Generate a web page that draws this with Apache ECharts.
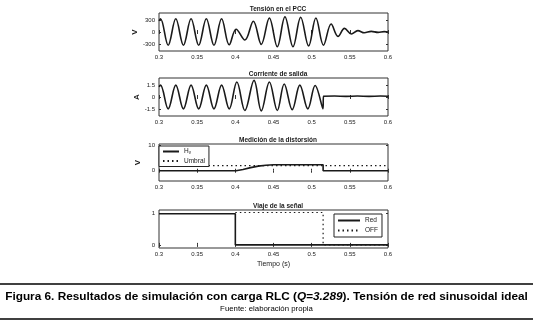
<!DOCTYPE html>
<html>
<head>
<meta charset="utf-8">
<script src="https://cdn.jsdelivr.net/npm/echarts@6/dist/echarts.min.js"></script>
<style>
html, body { margin: 0; padding: 0; background: #fff; }
#main { width: 533px; height: 324px; }
</style>
</head>
<body>
<div id="main"></div>
<script>
// Tensión en el PCC: picos y valles (t en s, V)
const vT = [0.3, 0.302, 0.312, 0.322, 0.332, 0.342, 0.352, 0.362, 0.372, 0.382, 0.392,
    0.401, 0.4125, 0.4236, 0.434, 0.4446, 0.455, 0.465, 0.4755, 0.4856, 0.496, 0.5055,
    0.5155, 0.5255, 0.5345, 0.543, 0.552, 0.5605, 0.569, 0.578, 0.587, 0.595, 0.6];
const vV = [280, 330, -330, 330, -330, 330, -330, 330, -330, 330, -320,
    70, -200, 270, -310, 350, -370, 380, -370, 370, -350, 350,
    -330, 200, -110, 90, -50, 35, -20, 15, -10, 10, 0];

// Corriente de salida (A)
const iT = [0.3, 0.302, 0.312, 0.322, 0.332, 0.342, 0.352, 0.362, 0.372, 0.382, 0.392,
    0.402, 0.4125, 0.4245, 0.434, 0.4446, 0.455, 0.464, 0.4745, 0.4845, 0.495, 0.5045,
    0.5148, 0.5155, 0.53, 0.545, 0.56, 0.575, 0.59, 0.6];
const iV = [1.3, 1.5, -1.5, 1.5, -1.5, 1.5, -1.5, 1.5, -1.5, 1.5, -1.5,
    1.9, -1.7, 2.1, -1.75, 1.9, -1.7, 1.65, -1.6, 1.5, -1.5, 1.45,
    -1.5, 0.1, 0.12, 0.08, 0.12, 0.08, 0.12, 0.1];

// Medición de la distorsión
const hT = [0.3, 0.401, 0.41, 0.42, 0.43, 0.44, 0.45, 0.515, 0.515, 0.6];
const hV = [0, 0, 0.5, 1.2, 1.8, 2.1, 2.3, 2.3, 0, 0];
const umbralT = [0.3, 0.6];
const umbralV = [2, 2];

// Viaje de la señal
const redT = [0.3, 0.4, 0.4, 0.6];
const redV = [1, 1, 0, 0];
const offT = [0.4, 0.515, 0.515, 0.6];
const offV = [1.04, 1.04, 0, 0];

const titulos = ['Tensión en el PCC', 'Corriente de salida', 'Medición de la distorsión', 'Viaje de la señal'];

const pares = (t, v) => t.map((x, i) => [x, v[i]]);

const chart = echarts.init(document.getElementById('main'));
const fuente = 'Liberation Sans';
const negro = '#1a1a1a';

const grids = [
    { left: 159, width: 229, top: 13, height: 38 },
    { left: 159, width: 229, top: 78, height: 38 },
    { left: 159, width: 229, top: 144, height: 37 },
    { left: 159, width: 229, top: 210, height: 38 }
].map(g => Object.assign(g, { show: true, borderColor: '#333', borderWidth: 1, backgroundColor: '#fff' }));

const yConf = [
    { min: -475, max: 475, ticks: [-300, 0, 300], name: 'V' },
    { min: -2.4, max: 2.4, ticks: [-1.5, 0, 1.5], name: 'A' },
    { min: -4, max: 10.4, ticks: [0, 10], name: 'V' },
    { min: -0.1, max: 1.12, ticks: [0, 1], name: '' }
];

const xAxis = [];
const yAxis = [];
grids.forEach((g, i) => {
    xAxis.push({
        type: 'value', gridIndex: i, min: 0.3, max: 0.6, interval: 0.05,
        axisLine: { show: false },
        axisTick: { inside: true, length: 2, lineStyle: { color: '#333' } },
        splitLine: { show: false },
        axisLabel: { fontSize: 6, color: negro, fontFamily: fuente, margin: 3,
            formatter: v => String(+v.toFixed(2)) },
        name: i === 3 ? 'Tiempo (s)' : '',
        nameLocation: 'middle', nameGap: 13,
        nameTextStyle: { fontSize: 7, color: negro, fontFamily: fuente }
    });
    xAxis.push({
        type: 'value', gridIndex: i, position: 'top', min: 0.3, max: 0.6, interval: 0.05,
        axisLine: { show: false },
        axisTick: { inside: true, length: 2, lineStyle: { color: '#333' } },
        splitLine: { show: false },
        axisLabel: { show: false }
    });
    const c = yConf[i];
    yAxis.push({
        type: 'value', gridIndex: i, min: c.min, max: c.max,
        axisLine: { show: false },
        axisTick: { inside: true, length: 2, customValues: c.ticks, lineStyle: { color: '#333' } },
        splitLine: { show: false },
        axisLabel: { fontSize: 6, color: negro, fontFamily: fuente, margin: 4, customValues: c.ticks },
        name: c.name, nameLocation: 'middle', nameGap: 17, nameRotate: 90,
        nameTextStyle: { fontSize: 8, color: negro, fontFamily: fuente, fontWeight: 'bold' }
    });
    yAxis.push({
        type: 'value', gridIndex: i, position: 'right', min: c.min, max: c.max,
        axisLine: { show: false },
        axisTick: { inside: true, length: 2, customValues: c.ticks, lineStyle: { color: '#333' } },
        splitLine: { show: false },
        axisLabel: { show: false }
    });
});

const linea = (name, t, v, eje, extra) => Object.assign({
    name: name, type: 'line', xAxisIndex: eje * 2, yAxisIndex: eje * 2,
    data: pares(t, v), symbol: 'none', silent: true,
    itemStyle: { color: negro },
    lineStyle: { color: negro, width: 1.6 }
}, extra || {});

const punteada = { color: negro, width: 1.2, type: [1.5, 3] };

const option = {
    animation: false,
    backgroundColor: '#fff',
    title: titulos.map((txt, i) => ({
        text: txt, left: 273, textAlign: 'center', top: grids[i].top - 12,
        textStyle: { fontSize: 6.5, fontWeight: 'bold', color: negro, fontFamily: fuente }
    })).concat([{
        text: '{b|Figura 6. Resultados de simulación con carga RLC (}{bi|Q=3.289}{b|). Tensión de red sinusoidal ideal}\n{n|Fuente: elaboración propia}',
        left: 'center', top: 291, padding: 0,
        textStyle: {
            rich: {
                b: { fontSize: 11.8, fontWeight: 'bold', color: '#000', fontFamily: fuente, lineHeight: 12 },
                bi: { fontSize: 11.8, fontWeight: 'bold', fontStyle: 'italic', color: '#000', fontFamily: fuente, lineHeight: 12 },
                n: { fontSize: 7.8, fontWeight: 'normal', color: '#000', fontFamily: fuente, lineHeight: 12 }
            }
        }
    }]),
    grid: grids,
    xAxis: xAxis,
    yAxis: yAxis,
    legend: [{
        data: ['Hv', 'Umbral'], orient: 'vertical', left: 159, top: 146,
        padding: [2, 4, 2, 3], itemGap: 2, itemWidth: 16, itemHeight: 6,
        backgroundColor: '#fff', borderColor: '#222', borderWidth: 1, borderRadius: 0,
        itemStyle: { opacity: 0 },
        formatter: n => n === 'Hv' ? '{m|H}{s|v}' : '{m|' + n + '}',
        textStyle: { rich: { m: { fontSize: 6.5, color: negro, fontFamily: fuente }, s: { fontSize: 4.5, color: negro, fontFamily: fuente, verticalAlign: 'bottom', padding: [3, 0, 0, 0] } } },
        selectedMode: false
    }, {
        data: ['Red', 'OFF'], orient: 'vertical', left: 334, top: 214,
        padding: [3, 4, 3, 3], itemGap: 3, itemWidth: 22, itemHeight: 6,
        backgroundColor: '#fff', borderColor: '#222', borderWidth: 1, borderRadius: 0,
        itemStyle: { opacity: 0 },
        textStyle: { fontSize: 6.5, color: negro, fontFamily: fuente },
        selectedMode: false
    }],
    graphic: [
        { type: 'line', shape: { x1: 0, y1: 284, x2: 533, y2: 284 }, style: { stroke: '#000', lineWidth: 1.5 } },
        { type: 'line', shape: { x1: 0, y1: 319, x2: 533, y2: 319 }, style: { stroke: '#000', lineWidth: 1.5 } }
    ],
    series: [
        linea('V', vT, vV, 0, { smooth: 0.37 }),
        linea('I', iT, iV, 1, { smooth: 0.37 }),
        linea('Hv', hT, hV, 2),
        linea('Umbral', umbralT, umbralV, 2, { lineStyle: punteada }),
        linea('Red', redT, redV, 3),
        linea('OFF', offT, offV, 3, { lineStyle: punteada })
    ]
};

chart.setOption(option);
</script>
</body>
</html>
